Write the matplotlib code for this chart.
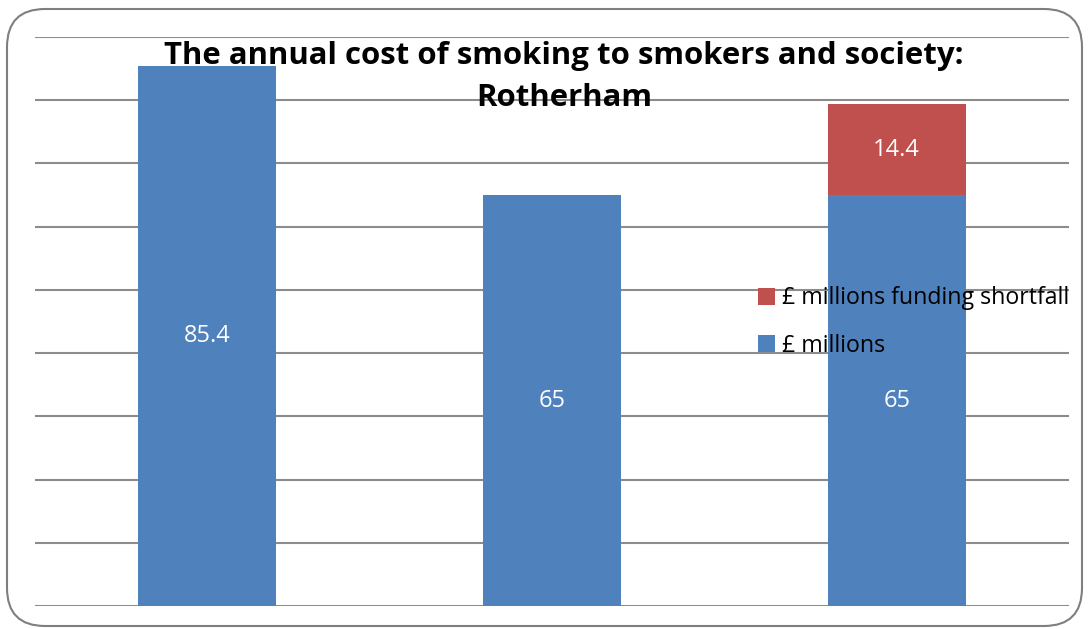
import matplotlib.pyplot as plt
from matplotlib.patches import FancyBboxPatch

categories = ['Smokers', 'Society', 'Funding']
millions = [85.4, 65, 65]
shortfall = [0, 0, 14.4]
series_names = ['£ millions', '£ millions funding shortfall']

blue = '#4f81bd'
red = '#c0504d'

plt.rcParams['font.family'] = ['Open Sans', 'DejaVu Sans']

fig = plt.figure(figsize=(10.88, 6.29), dpi=100)
ax = fig.add_axes([35 / 1088, 1 - 606 / 629, 1034 / 1088, 569 / 629])

# rounded outer border like the office chart frame
border = FancyBboxPatch((7 / 1088, 3 / 629), 1075 / 1088, 617 / 629,
                        boxstyle='round,pad=0,rounding_size=0.035',
                        transform=fig.transFigure, fill=False,
                        edgecolor='#7f7f7f', linewidth=1.5, mutation_aspect=1088 / 629)
fig.patches.append(border)

x = range(len(categories))
b1 = ax.bar(x, millions, width=0.4, color=blue, label=series_names[0], zorder=2)
b2 = ax.bar(x, shortfall, width=0.4, bottom=millions, color=red, label=series_names[1], zorder=2)

for i in x:
    ax.text(i, millions[i] / 2, f'{millions[i]:g}', ha='center', va='center',
            color='white', fontsize=17, zorder=3)
    if shortfall[i] > 0:
        ax.text(i, millions[i] + shortfall[i] / 2, f'{shortfall[i]:g}', ha='center',
                va='center', color='white', fontsize=17, zorder=3)

ax.set_xlim(-0.5, 2.5)
ax.set_ylim(0, 90)
ax.set_yticks(range(0, 91, 10))
ax.yaxis.grid(True, color='#8c8c8c', linewidth=1.5, zorder=0)
ax.set_axisbelow(True)
ax.set_xticks([])
ax.tick_params(left=False, labelleft=False)
for s in ax.spines.values():
    s.set_visible(False)

fig.text(564 / 1088, 1 - 77 / 629, 'The annual cost of smoking to smokers and society:\nRotherham',
         ha='center', va='center', fontsize=22.4, fontweight='bold', linespacing=1.5)

handles = [b2, b1]
ax.legend(handles, [series_names[1], series_names[0]], loc='center left',
          bbox_to_anchor=(758 / 1088, 1 - 322 / 629), bbox_transform=fig.transFigure,
          frameon=False, fontsize=16.7, handlelength=0.75, handleheight=0.75,
          handletextpad=0.3, labelspacing=1.0, borderaxespad=0, borderpad=0)

fig.savefig('out.png', dpi=100)
